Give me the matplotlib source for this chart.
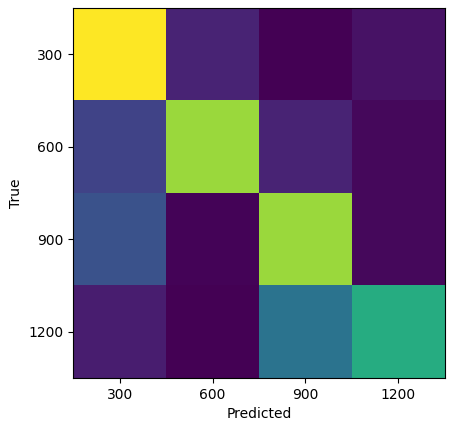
import matplotlib
matplotlib.use("Agg")
import matplotlib.pyplot as plt
import numpy as np

labels = ["300", "600", "900", "1200"]
matrix = np.array([
    [1.00, 0.10, 0.00, 0.05],
    [0.20, 0.85, 0.10, 0.02],
    [0.25, 0.01, 0.85, 0.02],
    [0.08, 0.00, 0.38, 0.62],
])

fig = plt.figure(figsize=(4.54, 4.32), dpi=100)
ax = fig.add_axes([0.161, 0.125, 0.819, 0.856])
ax.imshow(matrix, cmap="viridis", aspect="auto")
ax.set_xticks(range(len(labels)))
ax.set_xticklabels(labels)
ax.set_yticks(range(len(labels)))
ax.set_yticklabels(labels)
ax.set_xlabel("Predicted")
ax.set_ylabel("True")
fig.savefig("out.png", dpi=100)
